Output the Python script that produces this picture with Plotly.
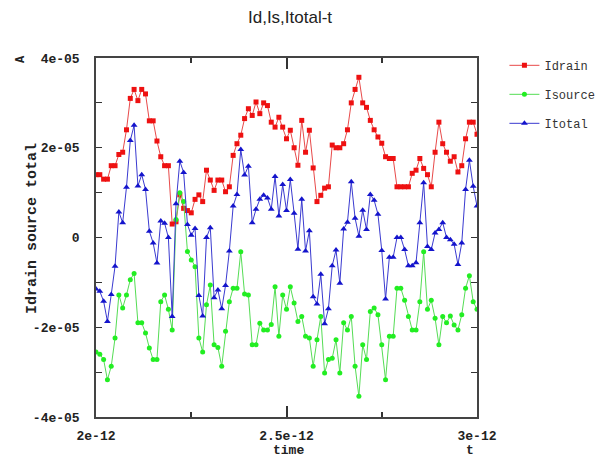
import numpy as np
import plotly.graph_objects as go

# time axis (s): 101 samples from 2e-12 to 3e-12
time = np.linspace(2e-12, 3e-12, 101)

# currents in units of 1e-5 A
idrain_e5 = [1.4, 1.4, 1.3, 1.3, 1.6, 1.6, 1.85, 1.9, 2.4, 3.1,
             3.3, 3.05, 3.3, 3.2, 2.6, 2.6, 2.15, 1.8, 1.6, 1.6,
             0.3, 0.35, 0.95, 0.65, 0.6, 0.55, 0.85, 0.95, 0.8, 1.5,
             1.28, 1.05, 1.28, 1.28, 1.02, 1.13, 1.83, 2.09, 2.28, 2.65,
             2.87, 2.72, 3.02, 2.76, 3.0, 2.94, 2.57, 2.46, 2.68, 2.46,
             2.2, 2.39, 2.0, 1.61, 2.61, 1.9, 2.39, 1.55, 0.8, 0.94,
             1.1, 1.13, 2.06, 2.0, 2.0, 2.09, 2.4, 3.0, 3.3, 3.57,
             3.0, 2.9, 2.61, 2.4, 2.24, 2.1, 1.8, 1.76, 1.76, 1.13,
             1.13, 1.13, 1.13, 1.43, 1.5, 1.76, 1.54, 1.4, 1.13, 1.9,
             2.57, 2.09, 1.9, 1.7, 1.8, 1.46, 1.6, 2.2, 2.57, 2.57, 2.3]

isource_e5 = [-2.55, -2.6, -2.72, -3.17, -2.87, -2.24, -1.28, -1.57, -1.28, -0.94,
              -0.8, -1.9, -1.9, -2.13, -2.46, -2.72, -2.72, -1.43, -1.28, -1.6,
              -2.06, 0.4, 1.0, 0.8, -0.31, -0.5, -0.65, -2.24, -2.55, -1.5,
              -1.06, -2.39, -2.45, -2.87, -2.09, -1.43, -1.13, -1.13, -0.32, -1.26,
              -1.28, -2.39, -2.39, -1.91, -2.06, -2.06, -1.94, -1.1, -2.2, -1.28,
              -1.6, -1.1, -1.46, -1.87, -1.76, -2.2, -2.24, -2.87, -2.28, -1.76,
              -3.02, -2.72, -2.69, -2.28, -3.02, -1.9, -2.06, -1.76, -2.87, -3.54,
              -2.39, -2.72, -1.65, -1.57, -1.72, -2.39, -3.17, -2.2, -2.2, -1.13,
              -1.13, -1.4, -1.76, -2.06, -2.06, -1.43, -0.32, -1.6, -1.4, -1.8,
              -2.39, -1.76, -1.9, -1.75, -1.95, -2.06, -1.72, -1.13, -0.85, -1.43, -1.6]

itotal_e5 = [-1.15, -1.2, -1.42, -1.87, -1.27, -0.64, 0.57, 0.33, 1.12, 2.16,
             2.5, 1.15, 1.4, 1.07, 0.14, -0.12, -0.57, 0.37, 0.32, 0.0,
             -1.76, 0.75, 1.7, 1.45, 0.29, 0.05, 0.2, -1.29, -1.75, 0.0,
             0.22, -1.34, -1.17, -1.59, -1.07, -0.3, 0.7, 0.96, 1.96, 1.39,
             1.59, 0.33, 0.63, 0.85, 0.94, 0.88, 0.63, 1.36, 0.48, 1.18,
             0.6, 1.29, 0.54, -0.26, 0.85, -0.3, 0.15, -1.32, -1.48, -0.82,
             -1.92, -1.59, -0.63, -0.28, -1.02, 0.19, 0.34, 1.24, 0.43, 0.03,
             0.61, 0.18, 0.96, 0.83, 0.52, -0.29, -1.37, -0.44, -0.44, 0.0,
             0.0, -0.27, -0.63, -0.63, -0.56, 0.33, 1.22, -0.2, -0.27, 0.1,
             0.18, 0.33, 0.0, -0.05, -0.15, -0.6, -0.12, 1.07, 1.72, 1.14, 0.7]

SCALE = 1e-5
series_names = ["Idrain", "Isource", "Itotal"]

y_tickvals = [-4e-5, -2e-5, 0, 2e-5, 4e-5]
y_ticktext = ["-4e-05", "-2e-05", "0", "2e-05", "4e-05"]
x_tickvals = [2e-12, 2.5e-12, 3e-12]
x_ticktext = ["2e-12", "2.5e-12", "3e-12"]

mono = "Liberation Mono"

fig = go.Figure()
styles = [
    (idrain_e5, "#e84a4a", "#ee1111", "square", 5),
    (isource_e5, "#55dd55", "#22ee22", "circle", 5),
    (itotal_e5, "#3a3ad0", "#1414cc", "triangle-up", 6),
]
for name, (vals, lc, mc, sym, ms) in zip(series_names, styles):
    fig.add_trace(go.Scatter(
        x=time, y=np.array(vals) * SCALE, name=name, mode="lines+markers",
        line=dict(color=lc, width=1),
        marker=dict(color=mc, symbol=sym, size=ms, line=dict(width=0)),
        legendgroup=name,
    ))

axis_common = dict(
    showline=True, linecolor="#444", linewidth=1.5, mirror="ticks",
    ticks="inside", tickcolor="#333", showgrid=False, zeroline=False,
    tickfont=dict(family=mono, size=13, color="#222", weight="bold"),
)

fig.update_xaxes(
    range=[2e-12, 3e-12], tickvals=x_tickvals, ticktext=x_ticktext,
    ticklen=11, tickwidth=1.5, ticklabelstandoff=6,
    minor=dict(dtick=0.25e-12, tick0=2e-12, ticklen=5, ticks="inside", tickcolor="#333"),
    **axis_common,
)
fig.update_yaxes(
    range=[-4e-5, 4e-5], tickvals=y_tickvals, ticktext=y_ticktext,
    ticklen=6, tickwidth=1, ticklabelstandoff=12,
    minor=dict(dtick=1e-5, tick0=0, ticklen=6, ticks="inside", tickcolor="#333"),
    **axis_common,
)

W, H = 613, 457
L, R, T, B = 96, 136, 58, 40
pw, ph = W - L - R, H - T - B

def px(x):
    return (x - L) / pw

def py(y):
    return (H - B - y) / ph

fig.update_layout(
    width=W, height=H,
    margin=dict(l=L, r=R, t=T, b=B),
    paper_bgcolor="white", plot_bgcolor="white",
    showlegend=True,
    legend=dict(x=1.072, y=1.02, xanchor="left", yanchor="top",
                font=dict(family=mono, size=12, color="#333"),
                tracegroupgap=10, bgcolor="rgba(0,0,0,0)"),
)

def note(text, x, y, size, family=mono, angle=0, weight="bold"):
    fig.add_annotation(text=text, x=px(x), y=py(y), xref="paper", yref="paper",
                       xanchor="center", yanchor="middle", textangle=angle,
                       showarrow=False,
                       font=dict(family=family, size=size, color="#222", weight=weight))

note("Id,Is,Itotal-t", 290, 18, 17, family="Liberation Sans", weight="normal")
note("Idrain source total", 33, 228, 15, angle=-90)
note("A", 21, 59, 12, angle=-90)
note("time", 288, 450, 13)
note("t", 470, 450, 13)

fig.write_html("out.html")
